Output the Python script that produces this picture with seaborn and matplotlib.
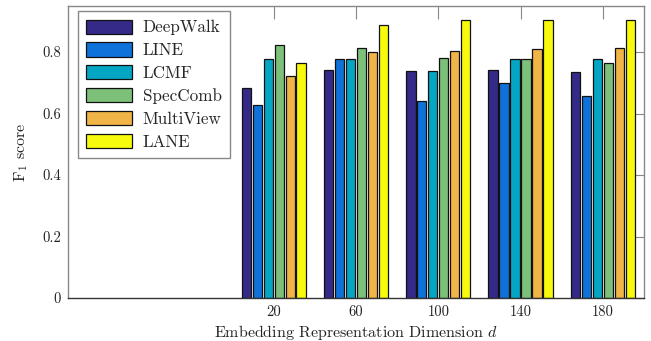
import matplotlib
matplotlib.use("Agg")
import matplotlib.pyplot as plt
import seaborn as sns
import pandas as pd

dims = [20, 60, 100, 140, 180]
methods = ["DeepWalk", "LINE", "LCMF", "SpecComb", "MultiView", "LANE"]
deepwalk = [0.683, 0.742, 0.738, 0.741, 0.735]
line = [0.629, 0.778, 0.642, 0.699, 0.657]
lcmf = [0.778, 0.778, 0.738, 0.778, 0.778]
speccomb = [0.824, 0.814, 0.781, 0.776, 0.766]
multiview = [0.721, 0.799, 0.805, 0.811, 0.812]
lane = [0.766, 0.887, 0.905, 0.905, 0.905]
yticks = [0, 0.2, 0.4, 0.6, 0.8]
ytick_labels = ["0", "0.2", "0.4", "0.6", "0.8"]
colors = ["#352A87", "#0F72DA", "#05A6C4", "#7CC07A", "#F0B447", "#F8FA0D"]

series = [deepwalk, line, lcmf, speccomb, multiview, lane]
rows = []
for m, vals in zip(methods, series):
    for d, v in zip(dims, vals):
        rows.append({"d": d, "score": v, "method": m})
df = pd.DataFrame(rows)

sns.set_theme(style="white")
plt.rcParams["font.family"] = ["cmr10", "DejaVu Serif"]
plt.rcParams["mathtext.fontset"] = "cm"
plt.rcParams["axes.formatter.use_mathtext"] = True

FS_LEG = 12.3
FS_TICK = 10.5
FS_LAB = 11.5
fig = plt.figure(figsize=(6.51, 3.41), dpi=100)
ax = fig.add_axes([68 / 651, 1 - 298 / 341, (644 - 68) / 651, (298 - 6) / 341])

sns.barplot(data=df, x="d", y="score", hue="method", hue_order=methods,
            palette=colors, native_scale=True, width=0.8, gap=0.15,
            edgecolor="#111111", linewidth=0.9, saturation=1, ax=ax,
            errorbar=None)

ax.set_xlim(-80, 200)
ax.set_ylim(0, 0.95)
ax.set_xticks(dims)
ax.set_xticklabels([str(d) for d in dims], fontsize=FS_TICK)
ax.set_yticks(yticks)
ax.set_yticklabels(ytick_labels, fontsize=FS_TICK)
ax.tick_params(axis="both", direction="in", length=9, width=0.8, color="#888888",
               top=True, right=True, labelcolor="#222222", pad=5)
for s in ax.spines.values():
    s.set_color("#888888")
    s.set_linewidth(1.0)
ax.spines["bottom"].set_color("#333333")

ax.set_xlabel("Embedding Representation Dimension $d$", fontsize=FS_LAB, color="#222222", labelpad=3)
ax.set_ylabel(r"$\mathrm{F}_1$ score", fontsize=FS_LAB, color="#222222", labelpad=9)

handles, labels = ax.get_legend_handles_labels()
ax.legend(handles, labels, loc="upper left", bbox_to_anchor=(0.017, 0.983),
          fontsize=FS_LEG, frameon=True, fancybox=False, framealpha=1,
          edgecolor="#888888", handlelength=2.7, handleheight=0.9,
          labelspacing=0.4, borderpad=0.5, handletextpad=0.6, borderaxespad=0)

fig.savefig("out.png", dpi=100)
